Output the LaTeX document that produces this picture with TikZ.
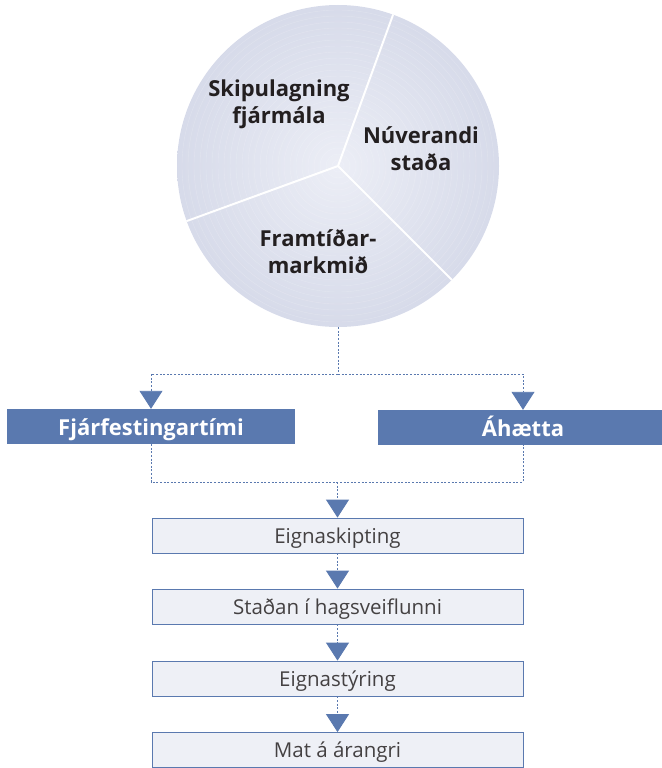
\documentclass[tikz,border=0pt]{standalone}
\usepackage{fontspec}
\setmainfont{Open Sans}
\usetikzlibrary{arrows.meta}
\definecolor{mblue}{HTML}{5A79AF}
\definecolor{pieinner}{HTML}{ECEEF6}
\definecolor{pieouter}{HTML}{C1C7DD}
\definecolor{boxfill}{HTML}{EEF0F6}
\definecolor{ink}{HTML}{231F20}
\pgfdeclareradialshading{pieshade}{\pgfpoint{0bp}{0bp}}{color(0bp)=(pieinner); color(50bp)=(pieouter); color(75bp)=(pieouter)}
\begin{document}
\begin{tikzpicture}[x=1pt,y=1pt,
  conn/.style={mblue, line width=0.9pt, dash pattern=on 2pt off 1.6pt},
  arr/.style={conn, -{Triangle[width=23pt,length=18pt]}},
  bar/.style={fill=mblue, text=white, font=\bfseries\fontsize{22}{26}\selectfont, minimum height=35pt, inner sep=0pt, text height=22pt, text depth=4pt},
  stage/.style={draw=mblue, fill=boxfill, line width=0.8pt, minimum width=371pt, minimum height=35pt, font=\fontsize{20.5}{24}\selectfont, text=ink!85, inner sep=0pt, text height=20pt, text depth=5pt},
  pielabel/.style={font=\bfseries\fontsize{22}{27}\selectfont, text=ink, align=center}
]
\useasboundingbox (0,0) rectangle (661,-768);
\node[circle, minimum size=322pt, inner sep=0pt, shading=pieshade] (pie) at (338,-166) {};
\foreach \r in {6,12,...,156} \draw[white, opacity=0.22, line width=0.4pt] (pie.center) circle (\r);
\foreach \a in {70,200,315} \draw[white, line width=2pt] (pie.center) -- (pie.\a);
\node[pielabel] (l1) at (279,-104) {Skipulagning\\fjármála};
\node[pielabel] (l2) at (421,-149) {Núverandi\\staða};
\node[pielabel] (l3) at (318,-252) {Framtíðar-\\markmið};

\node[bar, minimum width=288pt] (fj) at (151,-426.5) {Fjárfestingartími};
\node[bar, minimum width=290pt] (ah) at (523,-427.5) {Áhætta};

\coordinate (split) at (338,-374);
\draw[conn] (pie.south) -- (split);
\draw[arr] (split) -| (fj.north);
\draw[arr] (split) -| (ah.north);

\node[stage] (s1) at (337.5,-535.5) {Eignaskipting};
\node[stage] (s2) at (337.5,-606.5) {Staðan í hagsveiflunni};
\node[stage] (s3) at (337.5,-678.5) {Eignastýring};
\node[stage] (s4) at (337.5,-750) {Mat á árangri};

\coordinate (join) at (337.5,-482);
\draw[conn] (fj.south) -- (fj.south |- join) -- (ah.south |- join) -- (ah.south);
\draw[arr] (join) -- (s1.north);
\draw[arr] (s1) -- (s2);
\draw[arr] (s2) -- (s3);
\draw[arr] (s3) -- (s4);
\end{tikzpicture}
\end{document}
